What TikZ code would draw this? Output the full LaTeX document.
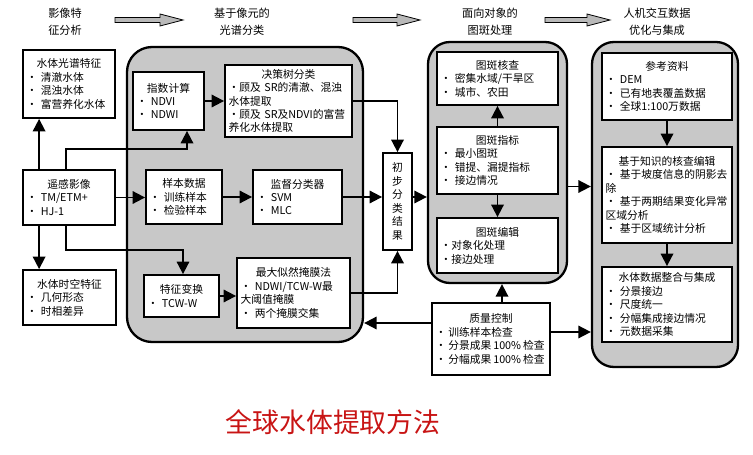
\documentclass[tikz,border=0pt]{standalone}
\usepackage{fontspec}
\setmainfont{Noto Sans CJK SC}
\usetikzlibrary{arrows.meta}
\definecolor{bggray}{RGB}{200,200,200}
\definecolor{hdrgray}{RGB}{185,185,185}
\definecolor{titlered}{RGB}{200,20,20}
\newcommand\fs{\fontsize{10.8}{13.5}\selectfont}
\newcommand\fsh{\fontsize{11.2}{17}\selectfont}
\newcommand\boxat[6]{\node[box, minimum width={#4bp-#2bp}, minimum height={#5bp-#3bp}, text width={#4bp-#2bp-7bp}] (#1) at ({(#2+#4)/2},{(#3+#5)/2}) {#6};}
\newcommand\grpat[6]{\node[grp, rounded corners=#6bp, minimum width={#4bp-#2bp}, minimum height={#5bp-#3bp}] (#1) at ({(#2+#4)/2},{(#3+#5)/2}) {};}
\newcommand\hdrarrow[2]{\draw[hdr] (#1,17.5) -- ({#2-23},17.5) -- ({#2-23},14) -- (#2,20) -- ({#2-23},26) -- ({#2-23},22.5) -- (#1,22.5) -- cycle;}
\newcommand\tsp{\hspace{2bp}}
\tikzset{
  box/.style={draw, line width=1.8bp, fill=white, inner sep=2bp, align=left, font=\fs},
  grp/.style={draw, line width=2.3bp, fill=bggray, inner sep=0pt},
  arr/.style={line width=1.8bp, -{Triangle[length=12.5bp,width=12.5bp]}},
  hdr/.style={draw, line width=0.8bp, fill=hdrgray},
  hdrtext/.style={align=center, font=\fsh},
}
\begin{document}
\begin{tikzpicture}[x=1bp,y=-1bp]
\useasboundingbox (0,0) rectangle (753,455);
% headers
\node[hdrtext] (h1) at (65,21.5) {影像特\\征分析};
\node[hdrtext] (h2) at (242,21.5) {基于像元的\\光谱分类};
\node[hdrtext] (h3) at (490,21.5) {面向对象的\\图斑处理};
\node[hdrtext] (h4) at (657,21.5) {人机交互数据\\优化与集成};
\hdrarrow{115}{183}
\hdrarrow{353}{420}
\hdrarrow{545}{610}
% groups
\grpat{g1}{127}{47}{363}{342}{25}
\grpat{g2}{428}{42}{567}{283}{22}
\grpat{g3}{592}{42}{738}{367}{22}
% boxes
\boxat{spec}{23}{50}{115}{118}{\makebox[\linewidth]{水体光谱特征}\\•~清澈水体\\•~混浊水体\\•~富营养化水体}
\boxat{rs}{23}{170}{115}{225}{\makebox[\linewidth]{遥感影像}\\•~TM/ETM+\\•~HJ-1}
\boxat{tempo}{23}{270}{116}{325}{\makebox[\linewidth]{水体时空特征}\\•~几何形态\\•~时相差异}
\boxat{idx}{133}{72}{204}{130}{\makebox[\linewidth]{指数计算}\\•~NDVI\\•~NDWI}
\boxat{dt}{225}{65}{352}{137}{\makebox[\linewidth]{决策树分类}\\•顾及~SR的清澈、混浊\\水体提取\\•顾及~SR及NDVI的富营\\养化水体提取}
\boxat{samp}{146}{170}{222}{224}{\makebox[\linewidth]{样本数据}\\•~训练样本\\•~检验样本}
\boxat{sup}{253}{170}{342}{224}{\makebox[\linewidth]{监督分类器}\\•~SVM\\•~MLC}
\boxat{feat}{144}{275}{219}{317}{\makebox[\linewidth]{特征变换}\\•~TCW-W}
\boxat{ml}{237}{258}{350}{328}{\makebox[\linewidth]{最大似然掩膜法}\\•~NDWI/TCW-W最\\大阈值掩膜\\•~两个掩膜交集}
\node[box, align=center, text width=, minimum width=29bp, minimum height=97bp] (init) at (397.5,201.5) {初\\步\\分\\类\\结\\果};
\boxat{chk}{437}{52}{558}{105}{\makebox[\linewidth]{图斑核查}\\•~密集水域/干旱区\\•~城市、农田}
\boxat{ind}{437}{127}{558}{194}{\makebox[\linewidth]{图斑指标}\\•~最小图斑\\•~错提、漏提指标\\•~接边情况}
\boxat{edit}{437}{218}{558}{273}{\makebox[\linewidth]{图斑编辑}\\•对象化处理\\•接边处理}
\boxat{qc}{432}{303}{550}{375}{\makebox[\linewidth]{质量控制}\\•\tsp 训练样本检查\\•\tsp 分景成果\tsp 100\%\tsp 检查\\•\tsp 分幅成果\tsp 100\%\tsp 检查}
\boxat{ref}{602}{53}{732}{120}{\makebox[\linewidth]{参考资料}\\•~DEM\\•~已有地表覆盖数据\\•~全球1:100万数据}
\boxat{know}{602}{147}{732}{243}{\makebox[\linewidth]{基于知识的核查编辑}\\•~基于坡度信息的阴影去\\除\\•~基于两期结果变化异常\\区域分析\\•~基于区域统计分析}
\boxat{integ}{602}{267}{732}{342}{\makebox[\linewidth]{水体数据整合与集成}\\•~分景接边\\•~尺度统一\\•~分幅集成接边情况\\•~元数据采集}
% connectors
\coordinate (j1) at (187,149);
\coordinate (j2) at (183,250);
\draw[arr] ([xshift=17bp]rs.north west) -- ([xshift=17bp]rs.north west |- spec.south);
\draw[arr] ([xshift=17bp]rs.south west) -- ([xshift=17bp]rs.south west |- tempo.north);
\draw[arr] ([xshift=44bp]rs.north west) |- (j1) -- (j1 |- idx.south);
\draw[arr] ([xshift=44bp]rs.south west) |- (j2) -- (j2 |- feat.north);
\draw[arr] (rs.east) -- (rs.east -| samp.west);
\draw[arr] (samp.east) -- (samp.east -| sup.west);
\draw[arr] (sup.east) -- (sup.east -| init.west);
\draw[arr] (sup.east -| init.east) -- (sup.east -| g2.west);
\draw[arr] (idx.east) -- (idx.east -| dt.west);
\draw[arr] (dt.east) -| (init.north);
\draw[arr] (feat.east) -- (feat.east -| ml.west);
\draw[arr] (ml.east) -| (init.south);
\draw[arr] ([yshift=16bp]qc.west) -- ([yshift=16bp]qc.west -| g1.east);
\draw[arr] ([xshift=11bp]qc.north) -- ([xshift=11bp]qc.north |- g2.south);
\draw[arr] ([yshift=7bp]qc.east) -- ([yshift=7bp]qc.east -| g3.west);
\draw[arr] (ind.north) -- (chk.south);
\draw[arr] (ind.south) -- (edit.north);
\draw[arr] ([yshift=-24bp]g2.east) -- ([yshift=-24bp]g2.east -| g3.west);
\draw[arr] (ref.south) -- (know.north);
\draw[arr] (know.south) -- (integ.north);
% title
\node[font=\fontsize{27}{30}\selectfont, text=titlered] (title) at (333,422) {全球水体提取方法};
\end{tikzpicture}
\end{document}
